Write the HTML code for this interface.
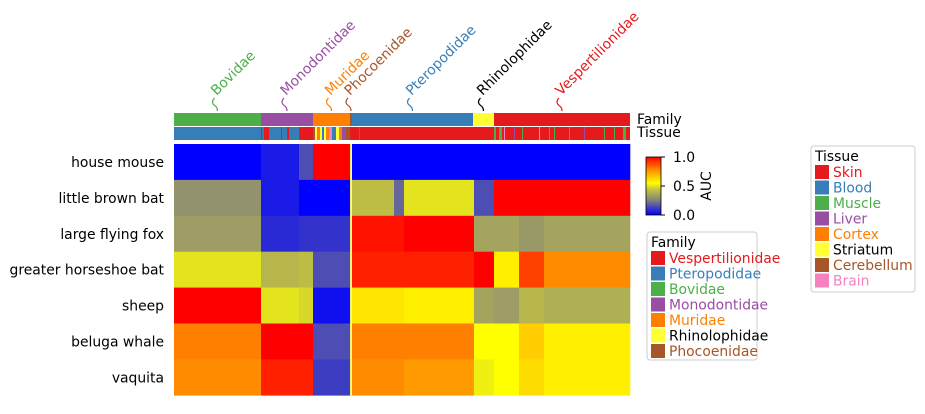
<!DOCTYPE html>
<html><head><meta charset="utf-8"><style>
body{margin:0;background:#fff}
svg{font-family:"DejaVu Sans","Liberation Sans",sans-serif}
</style></head><body>
<svg id="c" width="925" height="409"></svg>
<script>
const rowNames=["house mouse","little brown bat","large flying fox","greater horseshoe bat","sheep","beluga whale","vaquita"];
const blockStart=[0,87,125,139,176,178,220,230,300,320,345,370];
const blockEnd  =[87,125,139,176,178,220,230,300,320,345,370,456];
const mouseVals =[0,0.05,0.15,1,0.5,0,0,0,0,0,0,0];
const lbbVals   =[0.3,0.05,0,0,0.5,0.42,0.2,0.5,0.15,1,1,1];
const lffVals   =[0.33,0.08,0.1,0.1,0.5,0.97,0.97,1,0.35,0.35,0.32,0.35];
const ghbVals   =[0.5,0.4,0.42,0.15,0.5,0.95,0.95,0.95,1,0.58,0.9,0.78];
const sheepVals =[1,0.5,0.48,0.03,0.5,0.6,0.6,0.58,0.35,0.33,0.4,0.38];
const belugaVals=[0.8,1,1,0.15,0.5,0.8,0.8,0.8,0.55,0.55,0.65,0.58];
const vaquitaVals=[0.78,0.95,0.95,0.12,0.5,0.78,0.78,0.75,0.52,0.55,0.62,0.58];
const families=["Bovidae","Monodontidae","Muridae","Phocoenidae","Pteropodidae","Rhinolophidae","Vespertilionidae"];
const famStart=[0,87,139,176,178,299,320];
const famEnd=[87,139,176,178,299,320,456];
const famColor=["#4daf4a","#984ea3","#ff7f00","#a65628","#377eb8","#ffff33","#e41a1c"];
const famTextColor=["#4daf4a","#984ea3","#ff7f00","#a65628","#377eb8","#000","#e41a1c"];
const tisStart=[0,87,88,90,95,100,107,108,113,115,125,139,141,143,146,148,150,152,155,158,162,165,168,172,176,178,185,186,320,325,330,340,348,365,375,380,395,410,430,440,449];
const tisEnd  =[87,88,90,95,100,107,108,113,115,125,139,141,143,146,148,150,152,155,158,162,165,168,172,176,178,185,186,456,322,328,331,341,349,366,376,381,396,411,431,441,452];
const tisColor=["#377eb8","#e41a1c","#377eb8","#e41a1c","#377eb8","#377eb8","#e41a1c","#377eb8","#e41a1c","#377eb8","#e41a1c","#a65628","#ffff33","#ff7f00","#ffff33","#377eb8","#ffff33","#ff7f00","#f781bf","#377eb8","#ffff33","#ff7f00","#984ea3","#a65628","#e41a1c","#e41a1c","#984ea3","#e41a1c","#4daf4a","#4daf4a","#f781bf","#984ea3","#4daf4a","#f781bf","#4daf4a","#4daf4a","#4daf4a","#984ea3","#4daf4a","#4daf4a","#4daf4a"];
const tissueNames=["Skin","Blood","Muscle","Liver","Cortex","Striatum","Cerebellum","Brain"];
const tissueColors=["#e41a1c","#377eb8","#4daf4a","#984ea3","#ff7f00","#ffff33","#a65628","#f781bf"];
const tissueText=["#e41a1c","#377eb8","#4daf4a","#984ea3","#ff7f00","#000","#a65628","#f781bf"];
const legFamOrder=[6,4,0,1,2,5,3];
const cbTicks=[0,0.5,1];
const cbLabels=["0.0","0.5","1.0"];

const FS="13.9";
const NS="http://www.w3.org/2000/svg";
const svg=document.getElementById("c");
function mk(t,a,p){const e=document.createElementNS(NS,t);for(const k in a)e.setAttribute(k,a[k]);(p||svg).appendChild(e);return e;}
const X0=174,NC=456,W=456,Y0=144,RH=35.9;
const xs=c=>X0+c*W/NC;
const ys=r=>Y0+r*RH;
const stops=[[0,[0,0,255]],[0.25,[128,128,128]],[0.45,[200,200,60]],[0.55,[255,255,0]],[0.78,[255,140,0]],[1,[255,0,0]]];
function cmap(v){for(let i=1;i<stops.length;i++){if(v<=stops[i][0]){const a=stops[i-1],b=stops[i];const t=(v-a[0])/(b[0]-a[0]);return "rgb("+a[1].map((x,k)=>Math.round(x+(b[1][k]-x)*t)).join(",")+")";}}return "rgb(255,0,0)";}
const rows=[mouseVals,lbbVals,lffVals,ghbVals,sheepVals,belugaVals,vaquitaVals];
rows.forEach((vals,r)=>{
  vals.forEach((v,b)=>{
    const e=mk("rect",{x:xs(blockStart[b]),y:ys(r),width:xs(blockEnd[b])-xs(blockStart[b])+0.3,height:RH+0.3,fill:cmap(v)});
    
    
  });
  const t=mk("text",{x:164,y:ys(r)+RH/2+5,"text-anchor":"end","font-size":FS});
  t.textContent=rowNames[r];
  
  
});
mk("rect",{x:xs(176.6),y:Y0,width:1,height:RH*7,fill:"#fff"});
families.forEach((f,i)=>{
  const e=mk("rect",{x:xs(famStart[i]),y:113,width:xs(famEnd[i])-xs(famStart[i]),height:13,fill:famColor[i]});
  
  
  const cx=(xs(famStart[i])+xs(famEnd[i]))/2;
  const p=mk("path",{d:`M${cx} 111 C${cx} 105 ${cx-5} 106 ${cx-5} 102 C${cx-5} 100 ${cx-4} 99 ${cx-3} 98`,stroke:famColor[i]=="#ffff33"?"#000":famColor[i],fill:"none","stroke-width":1.2});
  
  
  const t=mk("text",{x:cx-1,y:96,"font-size":FS,fill:famTextColor[i],transform:`rotate(-45 ${cx-1} 96)`});
  t.textContent=f;
  
  
});
tisStart.forEach((s,i)=>{
  const e=mk("rect",{x:xs(s),y:127,width:xs(tisEnd[i])-xs(s),height:13,fill:tisColor[i]});
  
  
});
let t=mk("text",{x:637,y:124,"font-size":FS});t.textContent="Family";

t=mk("text",{x:637,y:137,"font-size":FS});t.textContent="Tissue";

const g=mk("defs",{});const lg=mk("linearGradient",{id:"cg",x1:0,y1:1,x2:0,y2:0},g);
for(let i=0;i<=20;i++){mk("stop",{offset:i/20,"stop-color":cmap(i/20)},lg);}
const cb=mk("rect",{x:646,y:157,width:15,height:58,fill:"url(#cg)",stroke:"#000","stroke-width":0.8});

cbTicks.forEach((v,i)=>{const y=215-v*58;mk("line",{x1:661,x2:665,y1:y,y2:y,stroke:"#000"});
  const tt=mk("text",{x:673,y:y+5,"font-size":FS});tt.textContent=cbLabels[i];
  });
t=mk("text",{x:711,y:186,"font-size":FS,"text-anchor":"middle",transform:"rotate(-90 711 186)"});t.textContent="AUC";

function legend(x,y,w,h,title,names,cols,txt,name){
  const gg=mk("g",{});
  mk("rect",{x,y,width:w,height:h,rx:3,fill:"#fff",stroke:"#ccc"},gg);
  const tt=mk("text",{x:x+4,y:y+15,"font-size":FS},gg);tt.textContent=title;
  names.forEach((n,i)=>{const yy=y+19+i*15.5;
    mk("rect",{x:x+4,y:yy,width:14,height:14,fill:cols[i]},gg);
    const e=mk("text",{x:x+22,y:yy+12,"font-size":FS,fill:txt[i]},gg);e.textContent=n;
    });
}
legend(811,146,104,146,"Tissue",tissueNames,tissueColors,tissueText,"tissue-legend");
legend(647,232,110,128,"Family",legFamOrder.map(i=>families[i]),legFamOrder.map(i=>famColor[i]),legFamOrder.map(i=>famTextColor[i]),"family-legend");
</script>
</body></html>
